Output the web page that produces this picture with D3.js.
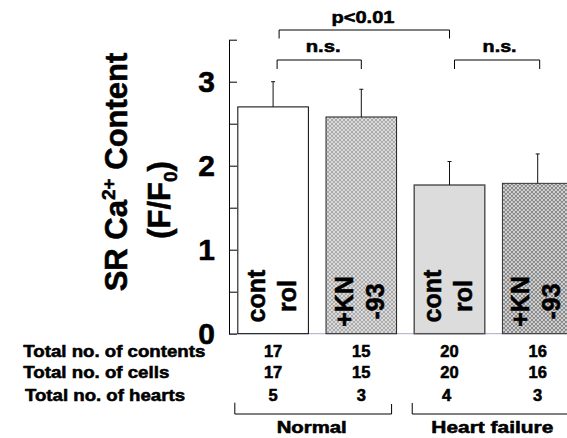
<!DOCTYPE html>
<html>
<head>
<meta charset="utf-8">
<script src="https://cdn.jsdelivr.net/npm/d3@7"></script>
<style>
  html, body { margin: 0; padding: 0; background: #fff; }
  svg { display: block; }
  text { font-family: "Liberation Sans", Arial, Helvetica, sans-serif; font-weight: bold; fill: #000;
         stroke: #000; stroke-width: 0.55px; stroke-linejoin: round; }
</style>
</head>
<body>
<div id="chart"></div>
<script>
// SR Ca2+ content, normal vs heart failure, with and without KN-93
const groups      = ["Normal control", "Normal +KN-93", "HF control", "HF +KN-93"];
const barLabels   = [["cont", "rol"], ["+KN", "-93"], ["cont", "rol"], ["+KN", "-93"]];
const meanValues  = [2.70, 2.58, 1.77, 1.79];
const semValues   = [0.30, 0.33, 0.28, 0.35];
const yTicks      = [0, 0.5, 1, 1.5, 2, 2.5, 3, 3.5];

const rowLabels   = ["Total no. of contents", "Total no. of cells", "Total no. of hearts"];
const nContents   = [17, 15, 20, 16];
const nCells      = [17, 15, 20, 16];
const nHearts     = [5, 3, 4, 3];
const conditions  = ["Normal", "Heart failure"];

const W = 567, H = 438;
const svg = d3.select("#chart").append("svg").attr("width", W).attr("height", H);

// pattern fills for the KN-93 bars
const defs = svg.append("defs");
function hatch(id, ink) {
  const p = defs.append("pattern").attr("id", id).attr("patternUnits", "userSpaceOnUse")
    .attr("width", 4).attr("height", 4);
  p.append("rect").attr("width", 4).attr("height", 4).attr("fill", "#fff");
  p.append("path").attr("d", "M0,0L4,4M4,0L0,4M-1,1L1,-1M3,5L5,3")
    .attr("stroke", ink).attr("stroke-width", 1.25).attr("fill", "none");
}
hatch("hatchLight", "#a9a9a9");
hatch("hatchDark", "#8a8a8a");

const axisX = 229;
const x = d3.scaleBand().domain(groups).range([axisX, axisX + 352.8]).paddingInner(0.2).paddingOuter(0.1);
const y = d3.scaleLinear().domain([0, 3.5]).range([333.7, 39.7]);

const fills   = ["#ffffff", "url(#hatchLight)", "#dcdcdc", "url(#hatchDark)"];
const strokes = ["#000", "#222", "#555", "#333"];

// faint baseline between bars
svg.append("line").attr("x1", axisX).attr("x2", W).attr("y1", y(0)).attr("y2", y(0))
  .attr("stroke", "#a7a9cc").attr("stroke-width", 1);

// bars
svg.append("g").selectAll("rect").data(groups).join("rect")
  .attr("x", d => x(d)).attr("y", (d, i) => y(meanValues[i]))
  .attr("width", x.bandwidth()).attr("height", (d, i) => y(0) - y(meanValues[i]))
  .attr("fill", (d, i) => fills[i]).attr("stroke", (d, i) => strokes[i])
  .attr("stroke-width", (d, i) => i === 2 ? 1.5 : 1);

// error bars (upper only)
const eb = svg.append("g").attr("stroke", "#111").attr("stroke-width", 1);
groups.forEach((g, i) => {
  const cx = x(g) + x.bandwidth() / 2;
  eb.append("line").attr("x1", cx).attr("x2", cx).attr("y1", y(meanValues[i])).attr("y2", y(meanValues[i] + semValues[i]));
  eb.append("line").attr("x1", cx - 2).attr("x2", cx + 2).attr("y1", y(meanValues[i] + semValues[i])).attr("y2", y(meanValues[i] + semValues[i]));
});

// y axis with inward ticks
const yAxis = d3.axisLeft(y).tickValues(yTicks).tickSizeInner(-8).tickSizeOuter(0).tickPadding(14)
  .tickFormat(d => Number.isInteger(d) ? d : "");
const ya = svg.append("g").attr("transform", `translate(${axisX},0)`).call(yAxis);
ya.selectAll("path, line").attr("stroke", "#000").attr("stroke-width", 1);
ya.selectAll("text").attr("font-size", 30).attr("font-weight", "bold")
  .attr("font-family", '"Liberation Sans", Arial, sans-serif').attr("fill", "#000").attr("dy", "0.33em");

// y axis title
const t1 = svg.append("text").attr("transform", "translate(127,172) rotate(-90)")
  .attr("text-anchor", "middle").attr("font-size", 31);
t1.append("tspan").text("SR Ca");
t1.append("tspan").attr("font-size", 19).attr("dy", -12).text("2+");
t1.append("tspan").attr("dy", 12).text(" Content");
const t2 = svg.append("text").attr("transform", "translate(170,200) rotate(-90)")
  .attr("text-anchor", "middle").attr("font-size", 31);
t2.append("tspan").text("(F/F");
t2.append("tspan").attr("font-size", 19).attr("dy", 7).text("0");
t2.append("tspan").attr("dy", -7).text(")");

// rotated labels inside bars
groups.forEach((g, i) => {
  const cx = x(g) + x.bandwidth() / 2;
  const cy = barLabels[i][0] === "cont" ? 296 : 301.5;
  barLabels[i].forEach((s, k) => {
    svg.append("text").attr("transform", `translate(${cx + (k === 0 ? -8.5 : 22.5)},${cy}) rotate(-90)`)
      .attr("text-anchor", "middle").attr("font-size", 25).text(s);
  });
});

// significance brackets
function bracket(x1, x2, yTop, drop) {
  svg.append("path").attr("d", `M${x1},${yTop + drop}V${yTop}H${x2}V${yTop + drop}`)
    .attr("fill", "none").attr("stroke", "#000").attr("stroke-width", 1);
}
const cx = i => x(groups[i]) + x.bandwidth() / 2;
bracket(cx(0) + 6, cx(2), 30, 8.5);
bracket(cx(0) + 4, cx(1), 60, 9);
bracket(cx(2) + 5, cx(3) + 2, 60, 9);
svg.append("text").attr("x", 363).attr("y", 22.7).attr("text-anchor", "middle").attr("font-size", 17)
  .attr("textLength", 63).attr("lengthAdjust", "spacingAndGlyphs").text("p<0.01");
svg.append("text").attr("x", (cx(0) + cx(1)) / 2 + 6).attr("y", 51.7).attr("text-anchor", "middle").attr("font-size", 17)
  .attr("textLength", 35).attr("lengthAdjust", "spacingAndGlyphs").text("n.s.");
svg.append("text").attr("x", (cx(2) + cx(3)) / 2 + 6).attr("y", 51.7).attr("text-anchor", "middle").attr("font-size", 17)
  .attr("textLength", 34).attr("lengthAdjust", "spacingAndGlyphs").text("n.s.");

// table of counts under the bars
const rowY = [356.5, 378.3, 400.5];
const rowX = [23.3, 23.3, 25];
const rowW = [182, 146, 160];
const rows = [nContents, nCells, nHearts];
rowLabels.forEach((lab, r) => {
  svg.append("text").attr("x", rowX[r]).attr("y", rowY[r]).attr("font-size", 16.5)
    .attr("textLength", rowW[r]).attr("lengthAdjust", "spacingAndGlyphs").text(lab);
  rows[r].forEach((v, i) => {
    svg.append("text").attr("x", cx(i) + (r === 2 && i === 2 ? -3 : 0)).attr("y", rowY[r])
      .attr("text-anchor", "middle").attr("font-size", 16.5).text(v);
  });
});

// condition brackets
const gb = svg.append("g").attr("fill", "none").attr("stroke", "#000").attr("stroke-width", 1);
gb.append("path").attr("d", `M${x(groups[0]) - 3},402.7V414H${x(groups[1]) + x.bandwidth() - 5}V404`);
gb.append("path").attr("d", `M${x(groups[2]) - 2},403V414H${x(groups[3]) + x.bandwidth() + 5}`);
svg.append("text").attr("x", 311.7).attr("y", 433).attr("text-anchor", "middle").attr("font-size", 16.5)
  .attr("textLength", 70).attr("lengthAdjust", "spacingAndGlyphs").text(conditions[0]);
svg.append("text").attr("x", 492.3).attr("y", 433).attr("text-anchor", "middle").attr("font-size", 16.5)
  .attr("textLength", 122).attr("lengthAdjust", "spacingAndGlyphs").text(conditions[1]);
</script>
</body>
</html>
